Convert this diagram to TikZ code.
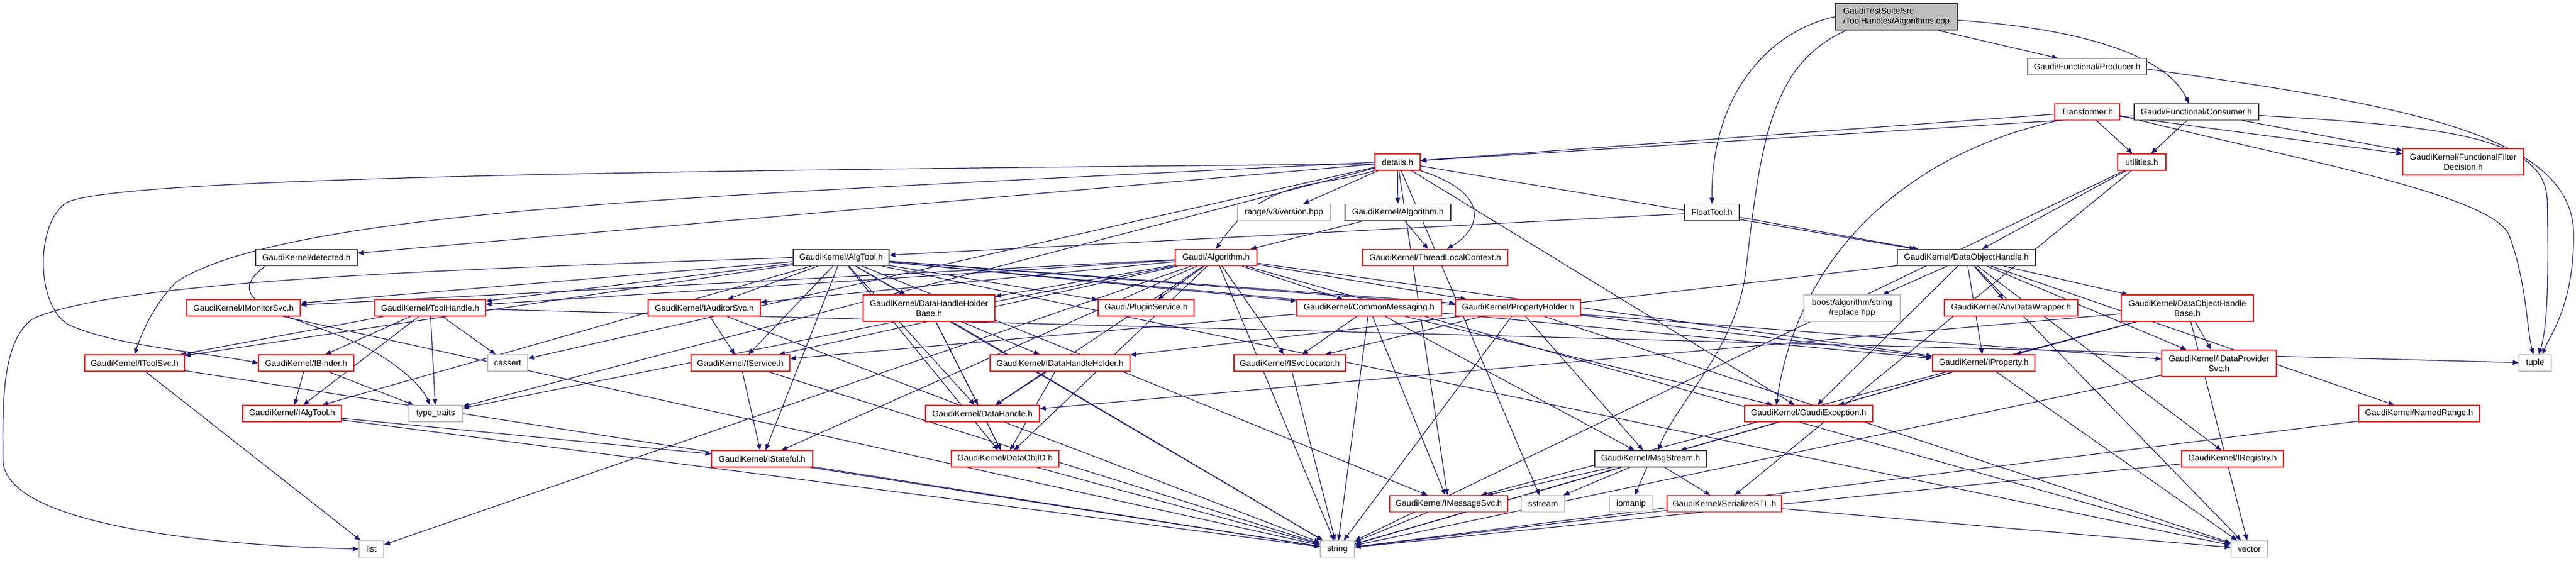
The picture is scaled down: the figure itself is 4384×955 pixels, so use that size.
\documentclass[tikz,border=0pt]{standalone}
\usepackage{fontspec}
\setmainfont{Liberation Sans}
\usetikzlibrary{arrows.meta}
\definecolor{eblue}{HTML}{191970}
\definecolor{dgray}{HTML}{404040}
\definecolor{lgray}{HTML}{BFBFBF}
\definecolor{rootfill}{HTML}{BFBFBF}
\definecolor{rred}{HTML}{FF0000}
\pgfdeclarelayer{background}
\pgfsetlayers{background,main}
\newcommand\nf{\fontsize{14.3}{17}\selectfont}
\tikzset{
  nd/.style={draw, fill=white, line width=1.2pt, inner sep=0pt, font=\nf, align=center, minimum height=28pt},
  hh/.style={minimum height=45pt},
  bnode/.style={nd, draw=dgray},
  rnode/.style={nd, draw=rred},
  gnode/.style={nd, draw=lgray},
  e/.style={draw=eblue, line width=1.2pt, -{Triangle[length=10pt,width=8pt]}},
}
\begin{document}
\begin{tikzpicture}[x=1pt,y=-1pt]
\begin{pgfonlayer}{background}
\fill[white] (0,0) rectangle (4384,955);
\end{pgfonlayer}
\useasboundingbox (0,0) rectangle (4384,955);
% row 0
\node[bnode, hh, fill=rootfill, align=left, minimum width=207pt] (root) at (3227.5,28.5) {GaudiTestSuite/src\\/ToolHandles/Algorithms.cpp};
% row 1
\node[bnode, minimum width=202pt] (prod) at (3552,113.5) {Gaudi/Functional/Producer.h};
% row 2
\node[rnode, minimum width=110pt] (trans) at (3552,190.5) {Transformer.h};
\node[bnode, minimum width=212pt] (cons) at (3738,190.5) {Gaudi/Functional/Consumer.h};
% row 3
\node[rnode, minimum width=77pt] (details) at (2378.5,276) {details.h};
\node[rnode, minimum width=82pt] (util) at (3645,276) {utilities.h};
\node[rnode, hh, minimum width=206pt] (ffd) at (4192,275.5) {GaudiKernel/FunctionalFilter\\Decision.h};
% row 4
\node[gnode, minimum width=158pt] (range) at (2185,361.5) {range/v3/version.hpp};
\node[bnode, minimum width=180pt] (gkalg) at (2379,361.5) {GaudiKernel/Algorithm.h};
\node[bnode, minimum width=93pt] (float) at (2913.5,361.5) {FloatTool.h};
% row 5
\node[bnode, minimum width=173pt] (detected) at (521.5,438.5) {GaudiKernel/detected.h};
\node[bnode, minimum width=163pt] (algtool) at (1431.5,438.5) {GaudiKernel/AlgTool.h};
\node[rnode, minimum width=139pt] (galg) at (2069.5,438.5) {Gaudi/Algorithm.h};
\node[rnode, minimum width=247pt] (tlc) at (2442.5,438.5) {GaudiKernel/ThreadLocalContext.h};
\node[bnode, minimum width=235pt] (doh) at (3346.5,438.5) {GaudiKernel/DataObjectHandle.h};
% row 6
\node[rnode, minimum width=193pt] (imon) at (414.5,524) {GaudiKernel/IMonitorSvc.h};
\node[rnode, minimum width=188pt] (toolh) at (732,524) {GaudiKernel/ToolHandle.h};
\node[rnode, minimum width=191pt] (iaud) at (1198.5,524) {GaudiKernel/IAuditorSvc.h};
\node[rnode, hh, minimum width=224pt] (dhhb) at (1581,524.5) {GaudiKernel/DataHandleHolder\\Base.h};
\node[rnode, minimum width=163pt] (plugin) at (1950.5,524) {Gaudi/PluginService.h};
\node[rnode, minimum width=246pt] (cmsg) at (2330,524) {GaudiKernel/CommonMessaging.h};
\node[rnode, minimum width=213pt] (prop) at (2583.5,524) {GaudiKernel/PropertyHolder.h};
\node[gnode, hh, minimum width=164pt] (boost) at (3152,524.5) {boost/algorithm/string\\/replace.hpp};
\node[rnode, minimum width=227pt] (anydw) at (3422.5,524) {GaudiKernel/AnyDataWrapper.h};
\node[rnode, hh, minimum width=225pt] (dohb) at (3722.5,524.5) {GaudiKernel/DataObjectHandle\\Base.h};
% row 7
\node[rnode, minimum width=170pt] (itoolsvc) at (229,618) {GaudiKernel/IToolSvc.h};
\node[rnode, minimum width=162pt] (ibinder) at (521,618) {GaudiKernel/IBinder.h};
\node[gnode, minimum width=68pt] (cassert) at (864,618) {cassert};
\node[rnode, minimum width=168pt] (iservice) at (1260,618) {GaudiKernel/IService.h};
\node[rnode, minimum width=238pt] (idhh) at (1804,618) {GaudiKernel/IDataHandleHolder.h};
\node[rnode, minimum width=190pt] (isvcloc) at (2195,618) {GaudiKernel/ISvcLocator.h};
\node[rnode, minimum width=174pt] (iprop) at (3376,618) {GaudiKernel/IProperty.h};
\node[rnode, hh, minimum width=195pt] (idps) at (3776.5,618.5) {GaudiKernel/IDataProvider\\Svc.h};
\node[gnode, minimum width=55pt] (tuple) at (4314.5,618) {tuple};
% row 8
\node[rnode, minimum width=168pt] (ialgtool) at (497,704) {GaudiKernel/IAlgTool.h};
\node[gnode, minimum width=91pt] (typetr) at (741.5,704) {type\_traits};
\node[rnode, minimum width=194pt] (dh) at (1672,704) {GaudiKernel/DataHandle.h};
\node[rnode, minimum width=218pt] (gexc) at (3078,704) {GaudiKernel/GaudiException.h};
\node[rnode, minimum width=206pt] (nrange) at (4117,704) {GaudiKernel/NamedRange.h};
% row 9
\node[rnode, minimum width=172pt] (istateful) at (1297,781) {GaudiKernel/IStateful.h};
\node[rnode, minimum width=183pt] (dobjid) at (1710.5,781) {GaudiKernel/DataObjID.h};
\node[bnode, minimum width=190pt] (msgs) at (2809,781) {GaudiKernel/MsgStream.h};
\node[rnode, minimum width=173pt] (ireg) at (3799.5,781) {GaudiKernel/IRegistry.h};
% row 10
\node[rnode, minimum width=201pt] (imsg) at (2465.5,857.5) {GaudiKernel/IMessageSvc.h};
\node[gnode, minimum width=74pt] (sstream) at (2626,857.5) {sstream};
\node[gnode, minimum width=74pt] (iomanip) at (2776,857.5) {iomanip};
\node[rnode, minimum width=195pt] (sstl) at (2934.5,857.5) {GaudiKernel/SerializeSTL.h};
% row 11
\node[gnode, minimum width=42pt] (list) at (632,934.5) {list};
\node[gnode, minimum width=58pt] (string) at (2276,934.5) {string};
\node[gnode, minimum width=62pt] (vector) at (3828,934.5) {vector};

\begin{pgfonlayer}{background}
% curved connectors
\draw[e] (root.west) .. controls (3020,50) and (2912,150) .. (float.north);
\draw[e] ([xshift=-85pt]root.south) .. controls (3010,110) and (2996,250) .. (2970,470) .. controls (2950,600) and (2850,690) .. ([xshift=13pt]msgs.north);
\draw[e] ([yshift=-6pt]root.east) .. controls (3560,50) and (3690,100) .. ([xshift=-13pt]cons.north);
\draw[e] ([xshift=70pt]root.south) -- ([xshift=-50pt]prod.north);
\draw[e] ([yshift=-4pt]prod.east) .. controls (4100,180) and (4380,230) .. (4380,400) .. controls (4380,520) and (4340,570) .. ([xshift=12pt]tuple.north);
\draw[e] ([yshift=-6pt]cons.east) .. controls (4150,215) and (4330,230) .. (4335,340) .. controls (4338,480) and (4335,560) .. ([xshift=6pt]tuple.north);
\draw[e] ([yshift=-6pt]trans.east) .. controls (3900,270) and (4240,330) .. (4270,400) .. controls (4300,480) and (4300,560) .. ([xshift=-3pt]tuple.north);
\draw[e] ([xshift=-48pt]trans.south) .. controls (3250,260) and (3060,430) .. ([xshift=-55pt]gexc.north);
\draw[e] ([yshift=-3pt]details.west) .. controls (1200,290) and (200,300) .. (113,345) .. controls (60,380) and (60,520) .. (117,553) .. controls (200,590) and (350,600) .. (ibinder.west);
\draw[e] (details.west) .. controls (1300,330) and (500,350) .. (300,480) .. controls (260,520) and (240,570) .. (itoolsvc.north);
\draw[e] (algtool.west) .. controls (700,460) and (200,480) .. (57,542) .. controls (0,580) and (5,700) .. (5,782) .. controls (5,900) and (400,930) .. (list.west);
\draw[e] ([xshift=-40pt]details.south) .. controls (2250,320) and (2150,300) .. (galg.north);
\draw[e] (details.south east) .. controls (2540,330) and (2520,390) .. ([xshift=20pt]tlc.north);
\draw[e] ([xshift=-70pt]detected.south) .. controls (360,520) and (520,540) .. (620,590) .. controls (680,620) and (720,660) .. ([xshift=-10pt]typetr.north);
\foreach \s/\t in {
 trans/details, trans/util, trans/ffd,
 cons/details, cons/util, cons/ffd,
 util/doh, util/sstl, util/string,
 details/detected, details/cassert, details/typetr,
 details/range, details/gkalg, details/sstream, details/imsg,
 details/doh, details/gexc,
 gkalg/galg, gkalg/tlc,
 float/algtool, float/doh,
 algtool/imon, algtool/toolh, algtool/iaud, algtool/iservice, algtool/istateful,
 algtool/dhhb, algtool/plugin, algtool/cmsg, algtool/prop, algtool/ialgtool,
 algtool/itoolsvc, algtool/iprop, algtool/idps, algtool/dh, algtool/dobjid,
 algtool/imsg, algtool/string, algtool/vector,
 galg/imon, galg/toolh, galg/iaud, galg/iservice, galg/istateful, galg/dhhb,
 galg/plugin, galg/cmsg, galg/prop, galg/isvcloc, galg/iprop, galg/dh, galg/dobjid,
 galg/typetr, galg/list, galg/string, galg/vector,
 doh/boost, doh/anydw, doh/dohb, doh/idhh, doh/iprop, doh/idps, doh/gexc,
 doh/nrange, doh/ireg, doh/vector,
 dohb/idps, dohb/iprop, dohb/dh, dohb/imsg, dohb/vector,
 imon/string,
 toolh/itoolsvc, toolh/ibinder, toolh/ialgtool, toolh/cassert, toolh/typetr, toolh/tuple,
 itoolsvc/list, itoolsvc/string,
 ibinder/ialgtool, ibinder/typetr,
 ialgtool/istateful, ialgtool/string,
 iaud/iservice, iaud/string,
 iservice/istateful, iservice/string, istateful/string,
 dhhb/idhh, dhhb/dh, dhhb/dobjid, dhhb/string,
 idhh/dh, idhh/dobjid, dh/dobjid, dobjid/string,
 cmsg/isvcloc, cmsg/iservice, cmsg/msgs, cmsg/imsg, cmsg/gexc, cmsg/string,
 prop/isvcloc, prop/msgs, prop/iprop, prop/string, prop/vector,
 isvcloc/string,
 iprop/gexc, iprop/string, iprop/vector,
 gexc/msgs, gexc/string,
 msgs/imsg, msgs/sstream, msgs/iomanip, msgs/sstl, msgs/string,
 imsg/string, sstl/string, sstl/vector,
 idps/string, ireg/string, nrange/string}
 { \draw[e] (\s) -- (\t); }
\end{pgfonlayer}
\end{tikzpicture}
\end{document}
